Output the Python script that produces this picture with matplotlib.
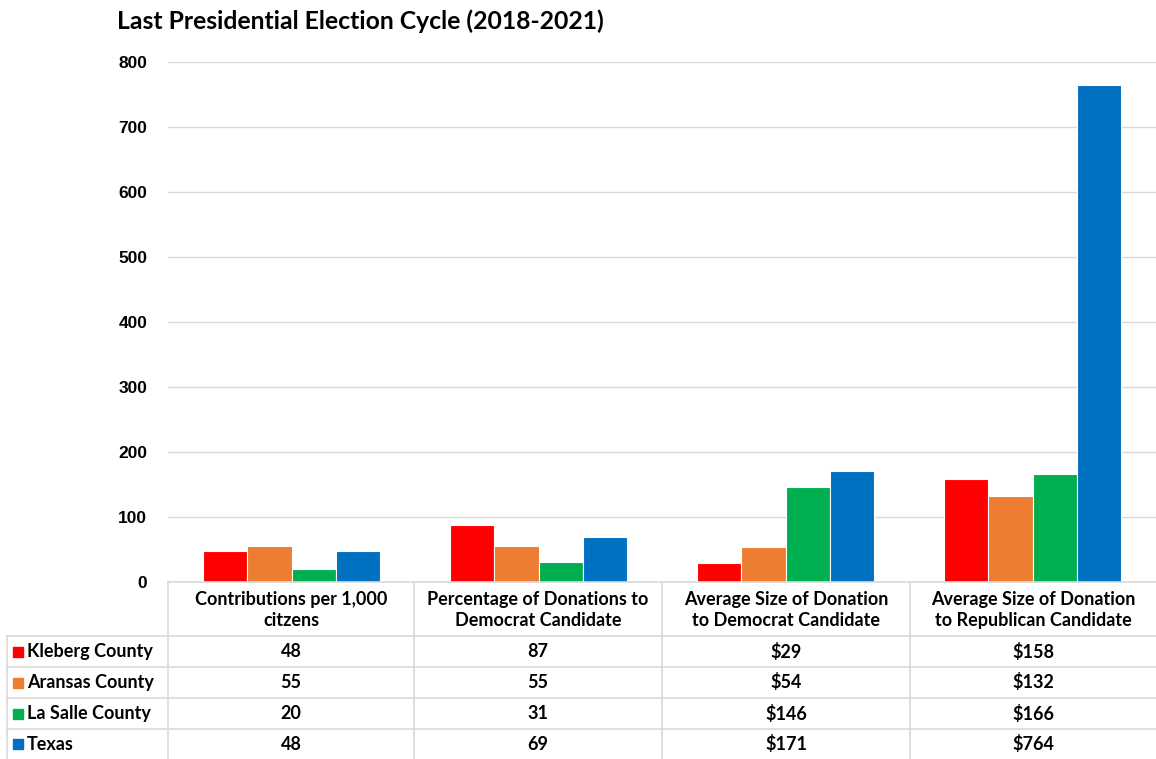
import matplotlib
matplotlib.use("Agg")
import matplotlib.pyplot as plt
from matplotlib.patches import Rectangle
from matplotlib.lines import Line2D

categories = ["Contributions per 1,000\ncitzens",
              "Percentage of Donations to\nDemocrat Candidate",
              "Average Size of Donation\nto Democrat Candidate",
              "Average Size of Donation\nto Republican Candidate"]
series_names = ["Kleberg County", "Aransas County", "La Salle County", "Texas"]
kleberg = [48, 87, 29, 158]
aransas = [55, 55, 54, 132]
lasalle = [20, 31, 146, 166]
texas = [48, 69, 171, 764]
series_values = [kleberg, aransas, lasalle, texas]
table_labels = [
    ["48", "87", "$29", "$158"],
    ["55", "55", "$54", "$132"],
    ["20", "31", "$146", "$166"],
    ["48", "69", "$171", "$764"],
]
yticks = [0, 100, 200, 300, 400, 500, 600, 700, 800]
colors = ["#FF0000", "#ED7D31", "#00B050", "#0070C0"]

W, H = 1156, 759
fig = plt.figure(figsize=(W / 100, H / 100), dpi=100)

# plot area in pixel coordinates
px_left, px_right, px_top, px_bottom = 168, 1156, 62, 582
ax = fig.add_axes([px_left / W, (H - px_bottom) / H,
                   (px_right - px_left) / W, (px_bottom - px_top) / H])
ax.set_xlim(-0.5, len(categories) - 0.5)
ax.set_ylim(0, 800)
bw = 0.180
for i, (vals, c) in enumerate(zip(series_values, colors)):
    xs = [g + (i - 1.5) * bw for g in range(len(categories))]
    ax.bar(xs, vals, width=bw, color=c, edgecolor="white", linewidth=0.8, zorder=3)
ax.set_yticks(yticks)
ax.set_yticklabels([str(t) for t in yticks], fontfamily="Liberation Sans",
                   fontweight="bold", fontsize=12.5)
ax.tick_params(axis="y", length=0, pad=15)
ax.set_xticks([])
ax.grid(axis="y", color="#D9D9D9", linewidth=1, zorder=0)
for s in ax.spines.values():
    s.set_visible(False)

# title
fig.text(117 / W, 1 - 21 / H, "Last Presidential Election Cycle (2018-2021)",
         fontfamily="Lato", fontweight="bold", fontsize=17.8,
         va="center", ha="left", color="#000000")

# data table drawn in pixel coordinates
tx = fig.add_axes([0, 0, 1, 1], facecolor="none")
tx.set_xlim(0, W)
tx.set_ylim(H, 0)
tx.axis("off")
gc = "#D9D9D9"
col_edges = [168, 414, 662, 910, 1156]
row_edges = [636, 667, 698, 729, 759]
tx.add_line(Line2D([168, W], [582, 582], color=gc, lw=1.2))
for y in row_edges[:-1]:
    tx.add_line(Line2D([7, W], [y, y], color=gc, lw=1.2))
for x in col_edges[:-1]:
    tx.add_line(Line2D([x, x], [582, H], color=gc, lw=1.2))
tx.add_line(Line2D([7, 7], [636, H], color=gc, lw=1.2))

tfont = dict(fontfamily="Lato", fontweight="bold", fontsize=13, color="#000000")
for j, cat in enumerate(categories):
    cx = (col_edges[j] + col_edges[j + 1]) / 2
    tx.text(cx, 610, cat, ha="center", va="center", linespacing=1.3, **tfont)
for i, name in enumerate(series_names):
    cy = (row_edges[i] + row_edges[i + 1]) / 2
    tx.add_patch(Rectangle((13, cy - 5), 10, 10, color=colors[i]))
    tx.text(27, cy, name, ha="left", va="center", **tfont)
    for j in range(len(categories)):
        cx = (col_edges[j] + col_edges[j + 1]) / 2
        tx.text(cx, cy, table_labels[i][j], ha="center", va="center", **tfont)

fig.savefig("out.png", dpi=100)
